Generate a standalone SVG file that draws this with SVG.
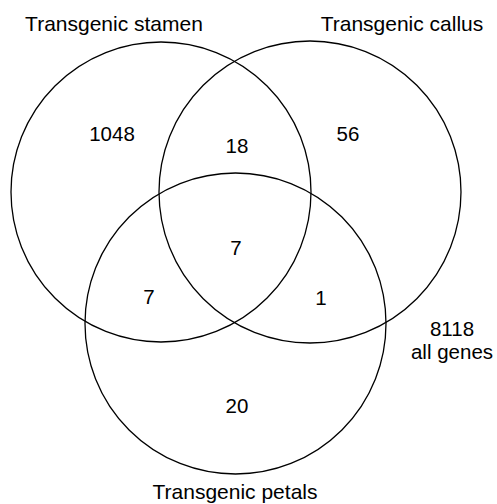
<svg xmlns="http://www.w3.org/2000/svg" width="497" height="504" viewBox="0 0 497 504">
<style>
.c{fill:none;stroke:#000;stroke-width:1.3}
.t{font-family:"Liberation Sans",Arial,sans-serif;font-size:21px;fill:#000;text-anchor:middle}
.n{font-family:"Liberation Sans",Arial,sans-serif;font-size:20.5px;fill:#000;text-anchor:middle}
</style>
<rect width="497" height="504" fill="#fff"/>
<g id="stamen"><circle class="c" cx="161" cy="192" r="150"/><text class="t" x="114" y="31">Transgenic stamen</text></g>
<g id="callus"><circle class="c" cx="310" cy="192" r="151"/><text class="t" x="402" y="31">Transgenic callus</text></g>
<g id="petals"><circle class="c" cx="235.5" cy="323.5" r="150.5"/><text class="t" x="235" y="499">Transgenic petals</text></g>
<g id="counts">
<text class="n" x="112" y="141">1048</text>
<text class="n" x="237" y="153">18</text>
<text class="n" x="348" y="141">56</text>
<text class="n" x="236" y="255">7</text>
<text class="n" x="149" y="304">7</text>
<text class="n" x="321" y="305">1</text>
<text class="n" x="237" y="413">20</text>
<text class="n" x="452" y="336">8118</text>
<text class="n" x="452" y="359">all genes</text>
</g>
<g id="connectors"/>
</svg>
